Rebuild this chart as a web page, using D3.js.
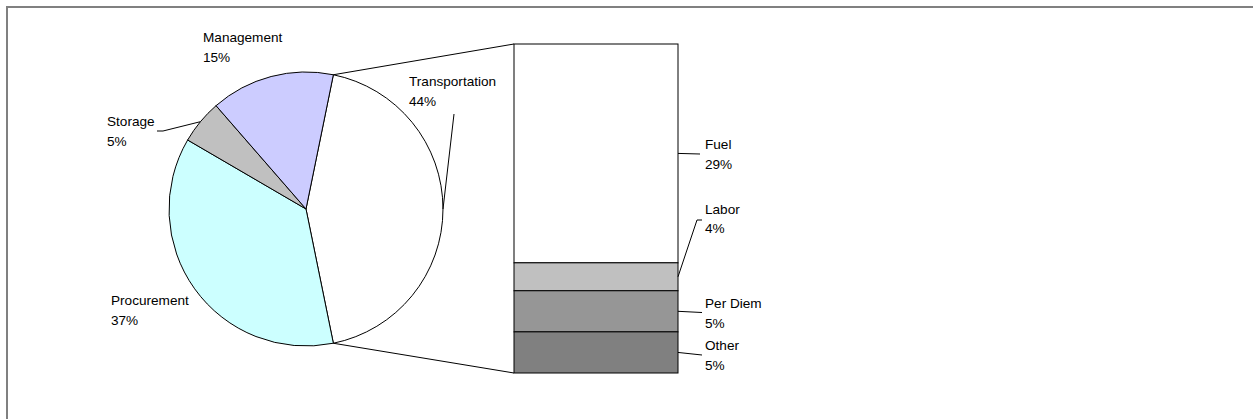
<!DOCTYPE html>
<html>
<head>
<meta charset="utf-8">
<script src="https://cdn.jsdelivr.net/npm/d3@7"></script>
<style>
	html, body { margin: 0; padding: 0; background: #ffffff; }
	svg { display: block; }
	text { font-family: "Liberation Sans", Arial, sans-serif; font-size: 13.6px; fill: #000000; }
</style>
</head>
<body>
<svg id="chart" width="1253" height="419"></svg>
<script>
// pie slices, clockwise from the split slice
var pieCategories = ["Transportation", "Procurement", "Storage", "Management"];
var pieValues = [43.6, 36.6, 5.2, 14.6];
var pieColors = ["#ffffff", "#ccffff", "#c0c0c0", "#ccccff"];

// breakdown of Transportation, top to bottom
var barCategories = ["Fuel", "Labor", "Per Diem", "Other"];
var barValues = [29.0, 3.7, 5.45, 5.45];
var barColors = ["#ffffff", "#c0c0c0", "#969696", "#808080"];

var svg = d3.select("#chart");

// frame (top and left edges only)
svg.append("path")
	.attr("d", "M7,419 L7,7 L1253,7")
	.attr("fill", "none")
	.attr("stroke", "#808080")
	.attr("stroke-width", 2);

var cx = 306, cy = 209, r = 137;
var fmt = function(v) { return Math.round(v) + "%"; };

/* PIE */
var total = d3.sum(pieValues);
var split = pieValues[0] / total * Math.PI;
var pie = d3.pie()
	.sort(null)
	.value(function(d) { return d; })
	.startAngle(Math.PI / 2 - split)
	.endAngle(Math.PI / 2 - split + 2 * Math.PI);
var arcs = pie(pieValues);
var arc = d3.arc().innerRadius(0).outerRadius(r);

var gPie = svg.append("g").attr("transform", "translate(" + cx + "," + cy + ")");
gPie.selectAll("path")
	.data(arcs)
	.enter()
	.append("path")
	.attr("d", arc)
	.attr("fill", function(d, i) { return pieColors[i]; })
	.attr("stroke", "#000000")
	.attr("stroke-width", 1);

function edge(a) {
	return [cx + r * Math.sin(a), cy - r * Math.cos(a)];
}

/* BAR */
var barX0 = 514, barX1 = 678;
var barSum = d3.sum(barValues);
var y = d3.scaleLinear().domain([0, barSum]).range([44, 373]);
var acc = 0;
var barData = barValues.map(function(v, i) {
	var d = { name: barCategories[i], value: v, y0: acc, y1: acc + v, color: barColors[i] };
	acc += v;
	return d;
});

svg.selectAll("rect.seg")
	.data(barData)
	.enter()
	.append("rect")
	.attr("class", "seg")
	.attr("x", barX0)
	.attr("width", barX1 - barX0)
	.attr("y", function(d) { return y(d.y0); })
	.attr("height", function(d) { return y(d.y1) - y(d.y0); })
	.attr("fill", function(d) { return d.color; })
	.attr("stroke", "#000000")
	.attr("stroke-width", 1);

// connector lines between pie and bar
var pTop = edge(arcs[0].startAngle), pBot = edge(arcs[0].endAngle);
svg.append("line")
	.attr("x1", pTop[0]).attr("y1", pTop[1])
	.attr("x2", barX0).attr("y2", y(0))
	.attr("stroke", "#000000");
svg.append("line")
	.attr("x1", pBot[0]).attr("y1", pBot[1])
	.attr("x2", barX0).attr("y2", y(barSum))
	.attr("stroke", "#000000");

/* LABELS */
var lineGap = 19.5;
var pieLabelPos = [[409, 86], [111, 305], [107, 126], [203, 42]];
var pieLeader = [[[454, 114]], null, [[157, 131], [163, 131]], null];
var barLabelPos = [[705, 149], [705, 213.5], [705, 308], [705, 350]];
var barLeader = [[[700, 154]], [[702, 220], [697, 220]], [[702, 312.5]], [[702, 355]]];

var line = d3.line();

arcs.forEach(function(a, i) {
	if (pieLeader[i]) {
		var mid = edge((a.startAngle + a.endAngle) / 2);
		svg.append("path")
			.attr("d", line(pieLeader[i].concat([mid])))
			.attr("fill", "none")
			.attr("stroke", "#000000");
	}
	var t = svg.append("text")
		.attr("x", pieLabelPos[i][0])
		.attr("y", pieLabelPos[i][1]);
	t.append("tspan").attr("x", pieLabelPos[i][0]).text(pieCategories[i]);
	t.append("tspan").attr("x", pieLabelPos[i][0]).attr("dy", lineGap).text(fmt(pieValues[i]));
});

barData.forEach(function(d, i) {
	var mid = [barX1, y((d.y0 + d.y1) / 2)];
	svg.append("path")
		.attr("d", line(barLeader[i].concat([mid])))
		.attr("fill", "none")
		.attr("stroke", "#000000");
	var t = svg.append("text")
		.attr("x", barLabelPos[i][0])
		.attr("y", barLabelPos[i][1]);
	t.append("tspan").attr("x", barLabelPos[i][0]).text(d.name);
	t.append("tspan").attr("x", barLabelPos[i][0]).attr("dy", lineGap).text(fmt(d.value));
});
</script>
</body>
</html>
